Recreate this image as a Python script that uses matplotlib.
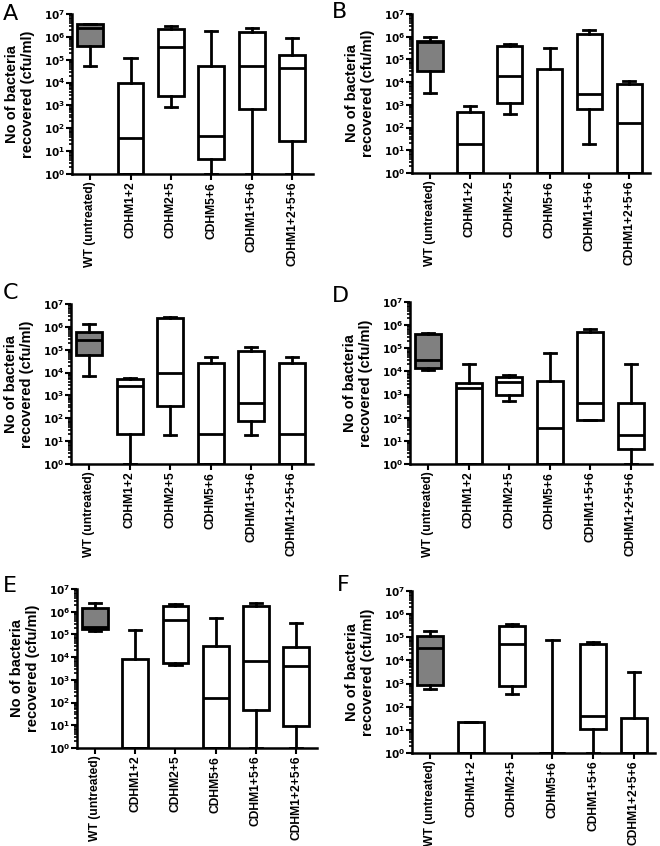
import numpy as np
import matplotlib
matplotlib.use("Agg")
import matplotlib.pyplot as plt
from matplotlib.ticker import LogLocator, NullFormatter, FixedLocator

plt.rcParams['font.family'] = ['Liberation Sans', 'DejaVu Sans']

# Grupos y paneles
grupos = ["WT (untreated)", "CDHM1+2", "CDHM2+5", "CDHM5+6", "CDHM1+5+6", "CDHM1+2+5+6"]
paneles = ["A", "B", "C", "D", "E", "F"]

# Estadisticos por panel (filas) y grupo (columnas), en cfu/ml
bigote_inf = [
    [5.2e4, 1, 870, 1, 1, 1],
    [3.2e3, 1, 410, 1, 19, 1],
    [7.4e3, 1, 19, 1, 19, 1],
    [1.15e4, 1, 550, 1, 81, 1],
    [1.4e5, 1, 4.6e3, 1, 1, 1],
    [610, 1, 360, 1, 1, 1],
]
cuartil1 = [
    [4.1e5, 1, 2.7e3, 4.6, 730, 29],
    [3.1e4, 1, 1.2e3, 1, 670, 1],
    [5.6e4, 20.5, 330, 1, 78, 1],
    [1.45e4, 1, 960, 1, 81, 4.6],
    [1.7e5, 1, 5.8e3, 1, 45, 8.9],
    [910, 1, 770, 1, 11, 1],
]
mediana = [
    [2.5e6, 37, 3.7e5, 44, 5.1e4, 4.3e4],
    [5.9e5, 19, 1.9e4, 1, 3.0e3, 160],
    [2.7e5, 2.6e3, 9.4e3, 20.5, 490, 20.5],
    [3.1e4, 2.0e3, 3.6e3, 35, 450, 18],
    [2.2e5, 1, 4.3e5, 160, 7.1e3, 3.9e3],
    [3.3e4, 1, 4.9e4, 1, 39, 1],
]
cuartil3 = [
    [3.5e6, 1.0e4, 2.3e6, 5.4e4, 1.65e6, 1.6e5],
    [6.7e5, 480, 3.8e5, 3.7e4, 1.35e6, 8.2e3],
    [6.2e5, 5.1e3, 2.4e6, 2.6e4, 9.2e4, 2.6e4],
    [4.2e5, 3.3e3, 5.9e3, 3.9e3, 5.1e5, 420],
    [1.4e6, 8.1e3, 1.85e6, 3.2e4, 1.8e6, 2.9e4],
    [1.1e5, 22, 3.0e5, 1, 4.9e4, 33],
]
bigote_sup = [
    [3.8e6, 1.15e5, 3.0e6, 1.75e6, 2.5e6, 8.5e5],
    [9.3e5, 850, 4.8e5, 3.2e5, 2.0e6, 1.15e4],
    [1.35e6, 5.7e3, 2.8e6, 5.0e4, 1.3e5, 5.0e4],
    [4.4e5, 2.1e4, 6.8e3, 6.0e4, 6.5e5, 2.1e4],
    [2.3e6, 1.6e5, 2.1e6, 5.5e5, 2.5e6, 3.1e5],
    [1.9e5, 22, 3.6e5, 7.3e4, 6.2e4, 3.2e3],
]

# Posicion de cada panel en pixeles: izquierda, derecha, arriba, abajo
W, H = 660, 846
cajas_px = [
    (72, 313, 14, 174), (412, 650, 14, 173),
    (71, 313, 304, 464), (410, 652, 302, 464),
    (77, 317, 589, 748), (412, 655, 591, 753),
]
letras_px = [(3, 4), (332, 2), (3, 283), (332, 286), (3, 576), (337, 575)]

fig = plt.figure(figsize=(W / 100, H / 100), dpi=100)

for k in range(6):
    l, r, t, b = cajas_px[k]
    ax = fig.add_axes([l / W, 1 - b / H, (r - l) / W, (b - t) / H])

    stats = []
    for j in range(len(grupos)):
        stats.append(dict(whislo=bigote_inf[k][j], q1=cuartil1[k][j], med=mediana[k][j],
                          q3=cuartil3[k][j], whishi=bigote_sup[k][j], label=grupos[j]))

    lw = 2.0
    bp = ax.bxp(stats, positions=np.arange(6), widths=0.64, showfliers=False,
                patch_artist=True, capwidths=0.3,
                boxprops=dict(linewidth=lw, edgecolor='black', facecolor='white'),
                medianprops=dict(color='black', linewidth=lw),
                whiskerprops=dict(color='black', linewidth=lw),
                capprops=dict(color='black', linewidth=lw))
    bp['boxes'][0].set_facecolor('#808080')

    ax.set_yscale('log')
    ax.set_ylim(1, 1e7)
    ax.set_xlim(-0.45, 5.52)

    ax.yaxis.set_major_locator(FixedLocator([10.0 ** n for n in range(8)]))
    ax.set_yticklabels([r'$\mathbf{10^{%d}}$' % n for n in range(8)], fontsize=7.5)
    ax.yaxis.set_minor_locator(LogLocator(base=10, subs=np.arange(2, 10), numticks=20))
    ax.yaxis.set_minor_formatter(NullFormatter())

    ax.set_xticks(np.arange(6))
    ax.set_xticklabels(grupos, rotation=90, fontsize=8.7, fontweight='bold')

    for lado in ['top', 'right']:
        ax.spines[lado].set_visible(False)
    for lado in ['left', 'bottom']:
        ax.spines[lado].set_linewidth(1.8)
    ax.tick_params(axis='y', which='major', length=4, width=1.5, pad=1)
    ax.tick_params(axis='y', which='minor', length=2.5, width=1.2)
    ax.tick_params(axis='x', length=4, width=1.5, pad=1.5)

    ax.set_ylabel("No of bacteria\nrecovered (cfu/ml)", fontsize=10.5,
                  fontweight='bold', labelpad=6)

    lx, ly = letras_px[k]
    fig.text(lx / W, 1 - ly / H, paneles[k], fontsize=16, ha='left', va='top',
             family='DejaVu Sans')

fig.savefig("out.png", dpi=100)
